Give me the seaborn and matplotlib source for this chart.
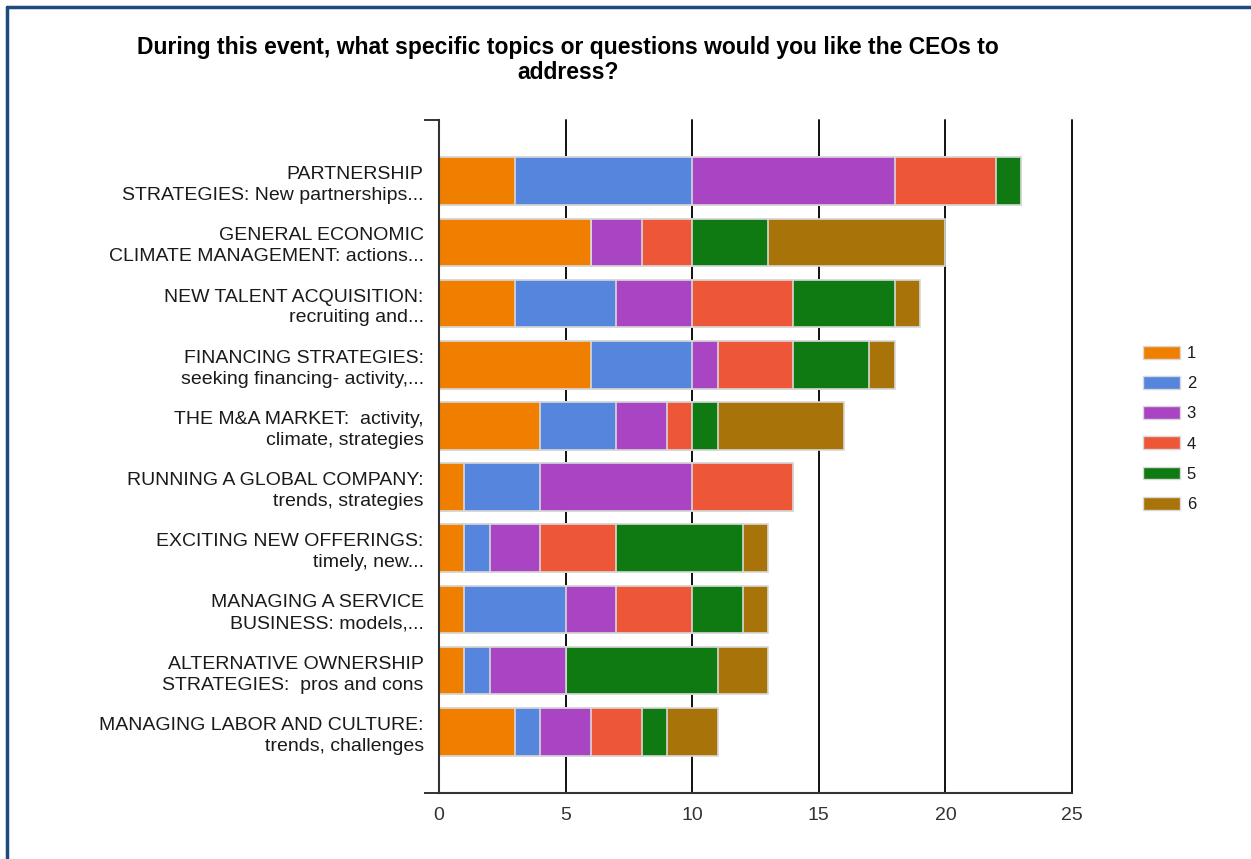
import seaborn as sns
import pandas as pd
import numpy as np
import matplotlib.pyplot as plt
from matplotlib.patches import Patch
from matplotlib.lines import Line2D

topics = [
    'PARTNERSHIP\nSTRATEGIES: New partnerships...',
    'GENERAL ECONOMIC\nCLIMATE MANAGEMENT: actions...',
    'NEW TALENT ACQUISITION:\nrecruiting and...',
    'FINANCING STRATEGIES:\nseeking financing- activity,...',
    'THE M&A MARKET:  activity,\nclimate, strategies',
    'RUNNING A GLOBAL COMPANY:\ntrends, strategies',
    'EXCITING NEW OFFERINGS:\ntimely, new...',
    'MANAGING A SERVICE\nBUSINESS: models,...',
    'ALTERNATIVE OWNERSHIP\nSTRATEGIES:  pros and cons',
    'MANAGING LABOR AND CULTURE:\ntrends, challenges',
]
rank_1 = [3, 6, 3, 6, 4, 1, 1, 1, 1, 3]
rank_2 = [7, 0, 4, 4, 3, 3, 1, 4, 1, 1]
rank_3 = [8, 2, 3, 1, 2, 6, 2, 2, 3, 2]
rank_4 = [4, 2, 4, 3, 1, 4, 3, 3, 0, 2]
rank_5 = [1, 3, 4, 3, 1, 0, 5, 2, 6, 1]
rank_6 = [0, 7, 1, 1, 5, 0, 1, 1, 2, 2]
ranks = ['1', '2', '3', '4', '5', '6']
colors = ['#f07f00', '#5585dd', '#a944c2', '#ee5638', '#0f7a12', '#a8740a']

df = pd.DataFrame({'topic': topics, '1': rank_1, '2': rank_2, '3': rank_3,
                   '4': rank_4, '5': rank_5, '6': rank_6})
cum = df[ranks].cumsum(axis=1)
cum['topic'] = df['topic']

sns.set_style('white')
plt.rcParams['font.family'] = ['Liberation Sans', 'DejaVu Sans']

fig = plt.figure(figsize=(12.51, 8.59), dpi=100)
ax = fig.add_axes([439 / 1251, 1 - 793 / 859, 633 / 1251, 673 / 859])

# stacked bars: draw running totals from the largest down
for r, c in reversed(list(zip(ranks, colors))):
    sns.barplot(data=cum, x=r, y='topic', color=c, width=0.78,
                edgecolor='#d8d8d8', linewidth=1.2, saturation=1, ax=ax)

ax.set_xlim(0, 25)
ax.set_ylim(10, -1)
ax.set_xticks([0, 5, 10, 15, 20, 25])
ax.xaxis.grid(True, color='#111111', linewidth=1.4)
ax.yaxis.grid(False)
ax.set_axisbelow(True)
for gl in ax.get_xgridlines():
    gl.set_clip_on(False)
ax.set_xlabel('')
ax.set_ylabel('')
for s in ['top', 'right']:
    ax.spines[s].set_visible(False)
for s in ['left', 'bottom']:
    ax.spines[s].set_color('#333333')
    ax.spines[s].set_linewidth(1.5)
ax.tick_params(axis='x', direction='out', length=7, width=1.4, color='#333333',
               labelsize=14, labelcolor='#333333', pad=3)
ax.tick_params(axis='y', direction='out', length=9, width=1.4, color='#333333',
               labelsize=14, labelcolor='#1a1a1a', pad=2)
for t in ax.get_yticklabels():
    t.set_linespacing(1.3)
ax.set_yticks([-1, 10], minor=True)
ax.tick_params(axis='y', which='minor', left=True, direction='out', length=11,
               width=1.4, color='#333333')

handles = [Patch(facecolor=c, edgecolor='#d8d8d8', label=r) for r, c in zip(ranks, colors)]
fig.legend(handles=handles, loc='center left', bbox_to_anchor=(1135 / 1251, 1 - 429 / 859),
           frameon=False, fontsize=12, handlelength=2.2, handleheight=0.8,
           labelspacing=0.9, handletextpad=0.4, borderpad=0, labelcolor='#1a1a1a')

fig.text(568 / 1251, 1 - 60 / 859,
         'During this event, what specific topics or questions would you like the CEOs to\naddress?',
         ha='center', va='center', fontsize=16.5, fontweight='bold', linespacing=1.12,
         color='black')

# frame edges of the original panel
fig.add_artist(Line2D([7 / 1251, 1], [1 - 7 / 859, 1 - 7 / 859], color='#1d4a7f', lw=2.5,
                      transform=fig.transFigure))
fig.add_artist(Line2D([7 / 1251, 7 / 1251], [0, 1 - 7 / 859], color='#1d4a7f', lw=2.5,
                      transform=fig.transFigure))

fig.savefig('out.png', dpi=100)
